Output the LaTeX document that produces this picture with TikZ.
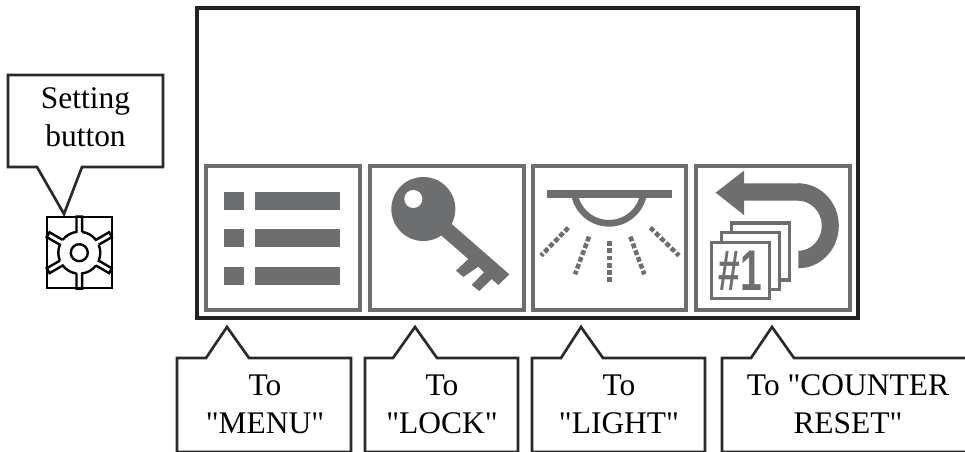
\documentclass[tikz,border=0pt]{standalone}
\usepackage{fontspec}
\newfontfamily\labelfont{Liberation Serif}
\newfontfamily\iconfont{Liberation Sans}
\definecolor{icongray}{HTML}{6D6E70}
\definecolor{inkdark}{HTML}{2B2A2A}
\tikzset{
  callout/.style={draw=inkdark,line width=2pt,fill=white,line join=miter},
  screen/.style={draw=inkdark!80!black,line width=3.4pt},
  softkey/.style={draw=icongray,line width=3pt,fill=white},
  iconfill/.style={fill=icongray,draw=none},
  ray/.style={draw=icongray,line width=3.4pt,dash pattern=on 3.7pt off 1.75pt},
  cardbox/.style={draw=icongray,line width=2.5pt,fill=white},
  label/.style={font=\labelfont\fontsize{23.6pt}{28.5pt}\selectfont,text=black,align=center,inner sep=0pt},
}
\begin{document}
\begin{tikzpicture}[x=0.75pt,y=-0.75pt]
\useasboundingbox (0,0) rectangle (965,452);
% screen
\draw[screen] (197,8) rectangle (858,318);
% soft keys
\draw[softkey] (206,166) rectangle (360,310);
\draw[softkey] (370,166) rectangle (524,310);
\draw[softkey] (533,166) rectangle (686,310);
\draw[softkey] (696,166) rectangle (850,310);
% menu icon
\foreach \yy in {192,229,267}{
  \fill[iconfill] (224,\yy) rectangle (244,\yy+18);
  \fill[iconfill] (255,\yy) rectangle (340,\yy+18);
}
% key icon
\begin{scope}[shift={(200,155)},x=0.25pt,y=-0.25pt]
  \fill[iconfill] (755,207) -- (928,358) -- (895,390) -- (875,372) -- (838,408) -- (815,390) -- (852,352) -- (835,335) -- (790,366) -- (768,347) -- (805,312) -- (722,240) -- cycle;
  \fill[iconfill] (670,162) circle[radius=96];
  \fill[white] (640,132) circle[radius=27];
\end{scope}
% light icon
\begin{scope}[shift={(525,155)},x=0.25pt,y=-0.25pt]
  \fill[iconfill] (66,105) rectangle (440,128);
  \draw[ray] (253,258) -- (253,381);
  \draw[ray] (130,218) -- (48,302);
  \draw[ray] (192,245) -- (150,358);
  \draw[ray] (316,245) -- (358,358);
  \draw[ray] (376,218) -- (462,302);
\end{scope}
\begin{scope}[shift={(609,188.3)},x=0.75pt,y=0.75pt]
  \draw[draw=icongray,line width=5pt] (185:35) arc[start angle=185,end angle=355,radius=35];
\end{scope}
% counter icon
\begin{scope}[shift={(525,155)},x=0.25pt,y=-0.25pt]
  \fill[iconfill] (572,113) -- (657,47) -- (657,85) -- (826,85) -- (826,137) -- (657,137) -- (657,180) -- cycle;
\end{scope}
\begin{scope}[shift={(798.3,225.8)},x=0.75pt,y=0.75pt]
  \fill[iconfill] (0,42.5) arc[start angle=90,end angle=-90,x radius=40.5,y radius=42.5] -- (0,-25) arc[start angle=-90,end angle=90,x radius=23.5,y radius=25] -- cycle;
\end{scope}
\begin{scope}[shift={(525,155)},x=0.25pt,y=-0.25pt]
  \draw[cardbox] (620,204) rectangle (793,375);
  \draw[cardbox] (590,233) rectangle (763,403);
  \draw[cardbox] (560,262) rectangle (733,431);
  \node[text=icongray,inner sep=0pt,font=\iconfont\bfseries\fontsize{43pt}{43pt}\selectfont] (cardnum) at (647,346) {\scalebox{0.68}[1]{\#1}};
\end{scope}
% gear
\draw[draw=black,line width=1.9pt] (47,217) rectangle (112,288);
\begin{scope}[shift={(79.3,252.7)},x=0.75pt,y=0.75pt]
  \draw[black,line width=1.8pt] (0,0) circle[radius=8.5];
  \foreach \aa in {30,90,150,210,270,330}{
    \begin{scope}[rotate=\aa]
      \draw[black,line width=1.8pt] (20.8,-2.8) -- (36,-2.8) -- (36,2.8) -- (20.8,2.8) arc[start angle=7.7,end angle=52.3,radius=21];
    \end{scope}
  }
\end{scope}
% callouts
\draw[callout] (8,167) -- (8,75) -- (163,75) -- (163,167) -- (82,167) -- (64,214) -- (37,167) -- cycle;
\node[label] (setting) at (85.5,117) {Setting\\button};
\draw[callout] (177,452) -- (177,358) -- (206,358) -- (227,327) -- (249,358) -- (351,358) -- (351,452) -- cycle;
\node[label] (menu) at (265,404) {To\\"MENU"};
\draw[callout] (365,452) -- (365,358) -- (393,358) -- (415,327) -- (437,358) -- (518,358) -- (518,452) -- cycle;
\node[label] (lock) at (442,404) {To\\"LOCK"};
\draw[callout] (532,452) -- (532,358) -- (561,358) -- (581,327) -- (603,358) -- (705,358) -- (705,452) -- cycle;
\node[label] (light) at (619,404) {To\\"LIGHT"};
\draw[callout] (722,452) -- (722,358) -- (751,358) -- (772,327) -- (794,358) -- (970,358) -- (970,452) -- cycle;
\node[label] (counter) at (848,404) {To "COUNTER\\RESET"};
\end{tikzpicture}
\end{document}
